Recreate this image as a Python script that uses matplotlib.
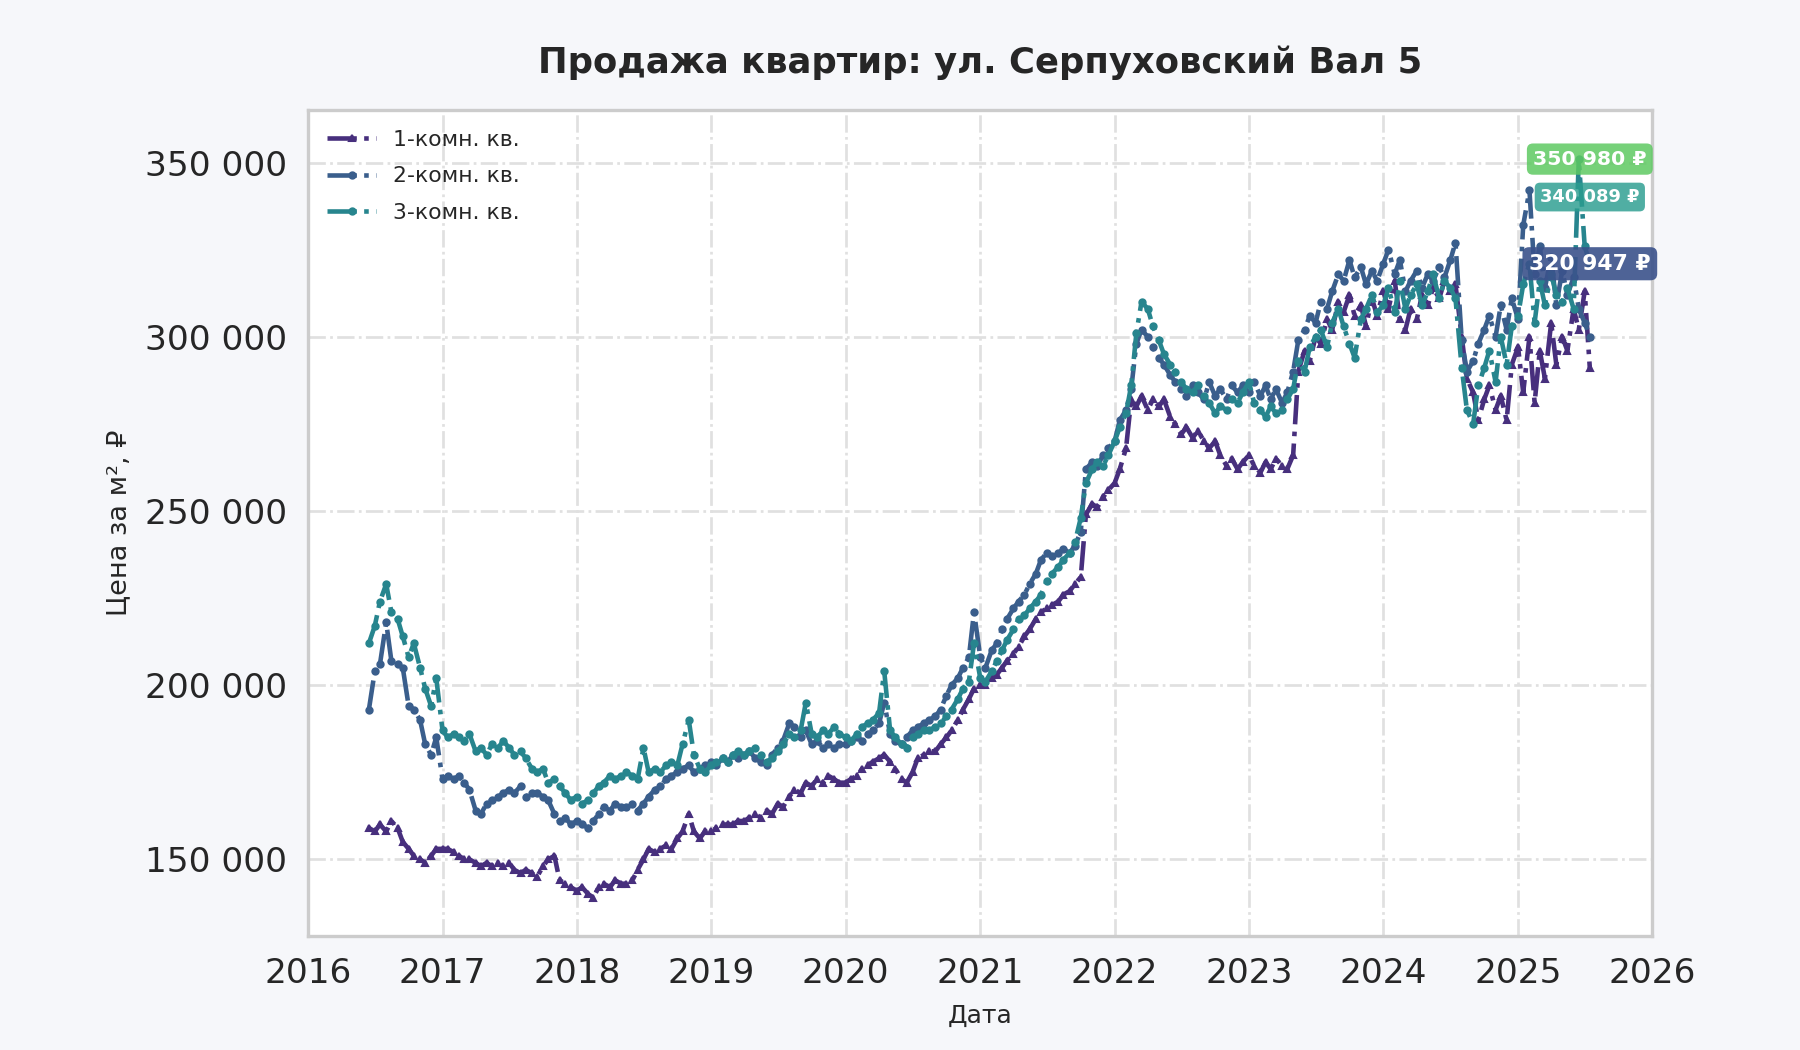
import matplotlib
matplotlib.use("Agg")
import matplotlib.pyplot as plt
import matplotlib.dates as mdates
import pandas as pd
import numpy as np

# ---------------- data (price per m2, thousands of RUB) ----------------
dates = pd.date_range("2016-06-15", "2025-07-15", freq="SMS")

s1_2016 = [159, 158, 160, 158, 161, 159, 155, 153, 151, 150, 149, 151, 153]
s1_2017 = [153, 153, 152, 151, 150, 150, 149, 148, 149, 148, 149, 148, 149, 147, 146, 147, 146, 145, 148, 150, 151, 144, 143, 142]
s1_2018 = [141, 142, 140, 139, 142, 143, 142, 144, 143, 143, 144, 147, 150, 153, 152, 153, 154, 153, 156, 158, 163, 158, 156, 158]
s1_2019 = [158, 159, 160, 160, 160, 161, 161, 162, 163, 162, 164, 163, 166, 165, 168, 170, 169, 172, 171, 173, 172, 174, 173, 172]
s1_2020 = [172, 173, 174, 176, 177, 178, 179, 180, 178, 176, 173, 172, 175, 179, 180, 181, 181, 183, 185, 187, 190, 193, 196, 199]
s1_2021 = [200, 200, 202, 203, 205, 207, 209, 211, 214, 216, 219, 221, 222, 223, 224, 226, 227, 229, 231, 249, 252, 251, 254, 256]
s1_2022 = [258, 262, 268, 282, 280, 283, 279, 282, 280, 282, 277, 275, 272, 274, 271, 273, 270, 268, 270, 266, 263, 265, 262, 264]
s1_2023 = [266, 263, 261, 264, 262, 265, 263, 262, 266, 290, 296, 293, 300, 298, 305, 302, 310, 307, 312, 306, 309, 303, 311, 306]
s1_2024 = [313, 308, 316, 305, 302, 308, 305, 312, 309, 314, 311, 316, 313, 315, 300, 288, 284, 276, 282, 286, 279, 283, 276, 292]
s1_2025 = [297, 284, 300, 281, 296, 288, 304, 292, 300, 296, 308, 302, 313, 291]

s2_2016 = [193, 204, 206, 218, 207, 206, 205, 194, 193, 190, 183, 180, 185]
s2_2017 = [173, 174, 173, 174, 172, 170, 164, 163, 166, 167, 168, 169, 170, 169, 171, 168, 169, 169, 168, 167, 163, 161, 162, 160]
s2_2018 = [161, 160, 159, 161, 163, 165, 164, 166, 165, 165, 166, 164, 166, 168, 170, 171, 173, 174, 175, 176, 177, 175, 176, 177]
s2_2019 = [178, 177, 179, 178, 180, 179, 180, 181, 179, 178, 177, 180, 182, 184, 189, 188, 185, 187, 183, 184, 182, 183, 182, 183]
s2_2020 = [183, 184, 185, 184, 186, 187, 189, 195, 186, 184, 183, 185, 187, 188, 189, 190, 191, 193, 197, 200, 202, 205, 208, 221]
s2_2021 = [208, 205, 210, 212, 216, 219, 222, 224, 226, 229, 232, 236, 238, 237, 238, 239, 238, 240, 244, 262, 264, 263, 266, 268]
s2_2022 = [270, 276, 279, 285, 298, 302, 300, 297, 294, 292, 289, 287, 285, 283, 286, 284, 282, 287, 283, 285, 282, 286, 284, 286]
s2_2023 = [284, 287, 283, 286, 282, 285, 281, 284, 290, 299, 302, 306, 304, 310, 308, 313, 318, 316, 322, 317, 320, 315, 319, 316]
s2_2024 = [321, 325, 318, 322, 313, 316, 319, 314, 318, 316, 320, 317, 322, 327, 299, 290, 293, 298, 302, 306, 300, 309, 302, 311]
s2_2025 = [305, 332, 342, 318, 326, 314, 323, 309, 319, 312, 317, 308, 304, 300]

s3_2016 = [212, 217, 224, 229, 221, 219, 214, 208, 212, 205, 199, 194, 202]
s3_2017 = [187, 185, 186, 185, 184, 186, 181, 182, 180, 183, 182, 184, 182, 180, 181, 179, 176, 175, 176, 172, 173, 171, 169, 167]
s3_2018 = [168, 166, 167, 169, 171, 172, 174, 173, 174, 175, 174, 173, 182, 175, 176, 175, 177, 178, 177, 183, 190, 180, 176, 175]
s3_2019 = [177, 178, 179, 178, 180, 181, 180, 181, 182, 180, 178, 179, 181, 183, 186, 185, 187, 195, 186, 185, 187, 186, 188, 186]
s3_2020 = [185, 184, 186, 188, 189, 190, 192, 204, 187, 185, 183, 182, 185, 186, 187, 187, 188, 189, 191, 193, 196, 199, 201, 212]
s3_2021 = [202, 201, 204, 207, 210, 213, 216, 219, 220, 222, 224, 226, 230, 232, 234, 236, 238, 241, 248, 258, 262, 264, 263, 266]
s3_2022 = [270, 274, 278, 286, 301, 310, 308, 303, 299, 295, 292, 290, 287, 285, 284, 286, 283, 281, 278, 280, 279, 282, 281, 284]
s3_2023 = [287, 281, 279, 277, 280, 278, 279, 282, 285, 293, 290, 297, 300, 302, 297, 304, 308, 303, 298, 294, 305, 308, 312, 307]
s3_2024 = [309, 314, 307, 316, 308, 312, 315, 309, 313, 318, 311, 316, 314, 311, 291, 279, 275, 286, 291, 296, 287, 300, 292, 303]
s3_2025 = [306, 315, 321, 304, 316, 309, 318, 312, 310, 314, 308, 350.98, 326, 321]

series_names = ["1-комн. кв.", "2-комн. кв.", "3-комн. кв."]
series_k = [
    s1_2016 + s1_2017 + s1_2018 + s1_2019 + s1_2020 + s1_2021 + s1_2022 + s1_2023 + s1_2024 + s1_2025,
    s2_2016 + s2_2017 + s2_2018 + s2_2019 + s2_2020 + s2_2021 + s2_2022 + s2_2023 + s2_2024 + s2_2025,
    s3_2016 + s3_2017 + s3_2018 + s3_2019 + s3_2020 + s3_2021 + s3_2022 + s3_2023 + s3_2024 + s3_2025,
]
label_values = [320947, 340089, 350980]

yticks = [150000, 200000, 250000, 300000, 350000]

# ---------------- styles ----------------
line_colors = ["#472f7d", "#3a5e8c", "#27858e"]
markers = ["^", "o", "o"]
box_colors = ["#3b528b", "#2a9d8f", "#5ec962"]
box_alpha = [0.9, 0.82, 0.85]
label_sizes = [10.5, 8.6, 9.8]

plt.rcParams['font.family'] = ['DejaVu Sans']

fig = plt.figure(figsize=(12, 7), dpi=150, facecolor="#f6f7fa")
ax = fig.add_axes([0.171, 0.1086, 0.918 - 0.171, 0.895 - 0.1086])
ax.set_facecolor("white")

for name, vals, c, m in zip(series_names, series_k, line_colors, markers):
    assert len(vals) == len(dates), (name, len(vals), len(dates))
    ax.plot(dates, np.array(vals) * 1000, linestyle="-.", color=c, linewidth=2.2,
            marker=m, markersize=3.0, label=name, zorder=3)

last_date = dates[-1]
for v, bc, a, fs in zip(label_values, box_colors, box_alpha, label_sizes):
    ax.text(last_date, v, f"{v:,}".replace(",", " ") + " ₽", ha="center", va="center",
            color="white", fontsize=fs, fontweight="bold", zorder=5,
            bbox=dict(boxstyle="round,pad=0.3", fc=bc, ec="none", alpha=a))

ax.set_xlim(pd.Timestamp("2016-01-01"), pd.Timestamp("2026-01-01"))
ax.set_ylim(128000, 365000)
ax.xaxis.set_major_locator(mdates.YearLocator())
ax.xaxis.set_major_formatter(mdates.DateFormatter("%Y"))
ax.set_yticks(yticks)
ax.set_yticklabels([f"{t:,}".replace(",", " ") for t in yticks])

ax.tick_params(axis="both", which="major", labelsize=16.5, length=0, pad=10, colors="#262626")
ax.grid(True, linestyle="-.", color="#e0e0e0", linewidth=1.3, zorder=0)
ax.set_axisbelow(True)
for sp in ax.spines.values():
    sp.set_color("#cccccc")
    sp.set_linewidth(1.6)

ax.set_title("Продажа квартир: ул. Серпуховский Вал 5", fontsize=17, fontweight="bold",
             color="#262626", pad=18)
ax.set_xlabel("Дата", fontsize=12, color="#262626", labelpad=7)
ax.set_ylabel("Цена за м², ₽", fontsize=13, color="#262626", labelpad=6)

leg = ax.legend(loc="upper left", frameon=False, fontsize=10.5, handlelength=2.2,
                labelspacing=0.75, borderaxespad=0.5)
for t in leg.get_texts():
    t.set_color("#262626")

fig.savefig("out.png", dpi=150, facecolor=fig.get_facecolor())
